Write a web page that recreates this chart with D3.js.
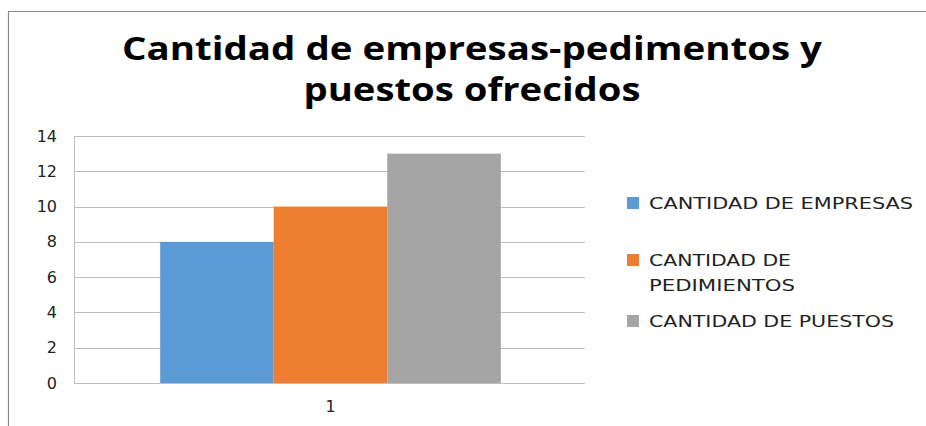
<!DOCTYPE html>
<html><head><meta charset="utf-8">
<script src="https://cdn.jsdelivr.net/npm/d3@7"></script>
<style>body{margin:0;background:#fff}svg{display:block}</style>
</head><body>
<script>
const categories = ["1"];
const seriesNames = ["CANTIDAD DE EMPRESAS", "CANTIDAD DE PEDIMIENTOS", "CANTIDAD DE PUESTOS"];
const seriesValues = [8, 10, 13];
const seriesColors = ["#5b9bd5", "#ed7d31", "#a5a5a5"];
const yTicks = [0, 2, 4, 6, 8, 10, 12, 14];
const titleLines = ["Cantidad de empresas-pedimentos y", "puestos ofrecidos"];
const legendLines = [["CANTIDAD DE EMPRESAS"], ["CANTIDAD DE", "PEDIMIENTOS"], ["CANTIDAD DE PUESTOS"]];

const W = 926, H = 426;
const svg = d3.select("body").append("svg").attr("width", W).attr("height", H);
svg.append("rect").attr("width", W).attr("height", H).attr("fill", "#fff");

// outer frame
svg.append("path").attr("d", `M8.5,${H} V11.5 H${W}`).attr("fill", "none").attr("stroke", "#8c8c8c").attr("stroke-width", 1.2);

// title
const titleWidths = [700, 337];
svg.append("g").selectAll("text").data(titleLines).join("text")
  .attr("x", 472).attr("y", (d, i) => 60 + i * 41)
  .attr("text-anchor", "middle")
  .attr("font-family", "'Open Sans', Lato, sans-serif").attr("font-weight", "bold")
  .attr("font-size", 32).attr("fill", "#000")
  .attr("textLength", (d, i) => titleWidths[i]).attr("lengthAdjust", "spacingAndGlyphs")
  .text(d => d);

const plot = {left: 74, right: 585, top: 136, bottom: 383};
const y = d3.scaleLinear().domain([0, 14]).range([plot.bottom, plot.top]);
const x0 = d3.scaleBand().domain(categories).range([plot.left, plot.right + 2]).paddingInner(0).paddingOuter(0.253);
const x1 = d3.scaleBand().domain(seriesNames).range([0, x0.bandwidth()]);

// gridlines
svg.append("g").selectAll("line").data(yTicks).join("line")
  .attr("x1", plot.left).attr("x2", plot.right)
  .attr("y1", d => Math.round(y(d)) + 0.5).attr("y2", d => Math.round(y(d)) + 0.5)
  .attr("stroke", "#bfbfbf").attr("stroke-width", 1);

// left axis line
svg.append("line").attr("x1", plot.left + 0.5).attr("x2", plot.left + 0.5)
  .attr("y1", plot.top).attr("y2", plot.bottom).attr("stroke", "#bfbfbf");

// y axis labels
const yAxis = d3.axisLeft(y).tickValues(yTicks).tickSize(0).tickPadding(17);
const gy = svg.append("g").attr("transform", `translate(${plot.left},0)`).call(yAxis);
gy.select(".domain").remove();
gy.selectAll("text").attr("font-family", "'DejaVu Sans', Verdana, sans-serif").attr("font-size", 16).attr("fill", "#222");

// bars
const g = svg.append("g");
categories.forEach(cat => {
  g.selectAll("rect.bar").data(seriesNames).join("rect").attr("class", "bar")
    .attr("x", d => x0(cat) + x1(d))
    .attr("width", x1.bandwidth())
    .attr("y", (d, i) => y(seriesValues[i]))
    .attr("height", (d, i) => plot.bottom - y(seriesValues[i]))
    .attr("fill", (d, i) => seriesColors[i]);
});

// x axis
const xAxis = d3.axisBottom(x0).tickSize(0).tickPadding(18);
const gx = svg.append("g").attr("transform", `translate(0,${plot.bottom})`).call(xAxis);
gx.select(".domain").remove();
gx.selectAll("text").attr("font-family", "'DejaVu Sans', Verdana, sans-serif").attr("font-size", 16).attr("fill", "#222");

// legend
const legendY = [203, 260, 321];
const legendWidths = [[264], [142, 146], [245]];
const lg = svg.append("g");
seriesNames.forEach((s, i) => {
  lg.append("rect").attr("x", 627).attr("y", legendY[i] - 6).attr("width", 12).attr("height", 12).attr("fill", seriesColors[i]);
  legendLines[i].forEach((line, j) => {
    lg.append("text").attr("x", 649).attr("y", legendY[i] + 6 + j * 25)
      .attr("font-family", "'DejaVu Sans', Verdana, sans-serif").attr("font-size", 16).attr("fill", "#222")
      .attr("textLength", legendWidths[i][j]).attr("lengthAdjust", "spacingAndGlyphs")
      .text(line);
  });
});
</script>
</body></html>
